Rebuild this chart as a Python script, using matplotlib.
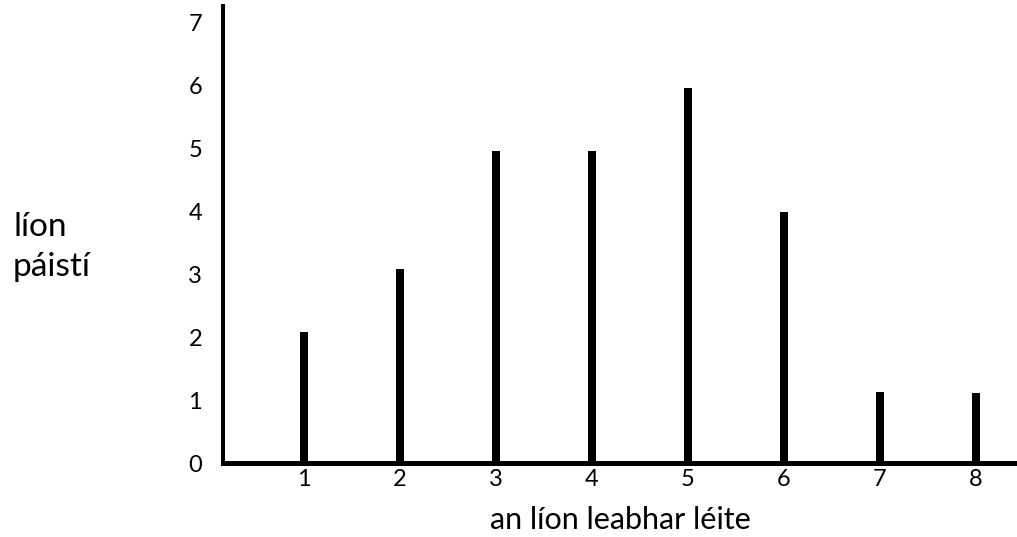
import numpy as np
import matplotlib.pyplot as plt

# books read vs number of children
books_read = [1, 2, 3, 4, 5, 6, 7, 8]
children = [2.08, 3.08, 4.96, 4.96, 5.96, 4.0, 1.13, 1.11]
y_ticks = [0, 1, 2, 3, 4, 5, 6, 7]

plt.rcParams['font.family'] = ['Lato', 'DejaVu Sans']

fig = plt.figure(figsize=(10.17, 5.37), dpi=100)
ax = fig.add_axes([223 / 1017, 74 / 537, 1 - 223 / 1017, (463 - 6) / 537])

ax.bar(books_read, children, width=0.085, color='black', zorder=1)

ax.set_xlim(0.156, 8.43)
ax.set_ylim(0, 7.27)
ax.set_xticks(books_read)
ax.set_yticks(y_ticks)
ax.tick_params(axis='both', length=0, labelsize=17)
ax.tick_params(axis='y', pad=15)
ax.tick_params(axis='x', pad=4)

for s in ['top', 'right']:
    ax.spines[s].set_visible(False)
ax.spines['left'].set_linewidth(2.9)
ax.spines['bottom'].set_linewidth(3.6)
ax.spines['bottom'].set_zorder(3)

ax.set_xlabel('an líon leabhar léite', fontsize=22, labelpad=12)
fig.text(13 / 1017, 0.54, 'líon\npáistí', fontsize=24, ha='left', va='center',
         multialignment='left', linespacing=1.45)

fig.savefig('out.png', dpi=100)
